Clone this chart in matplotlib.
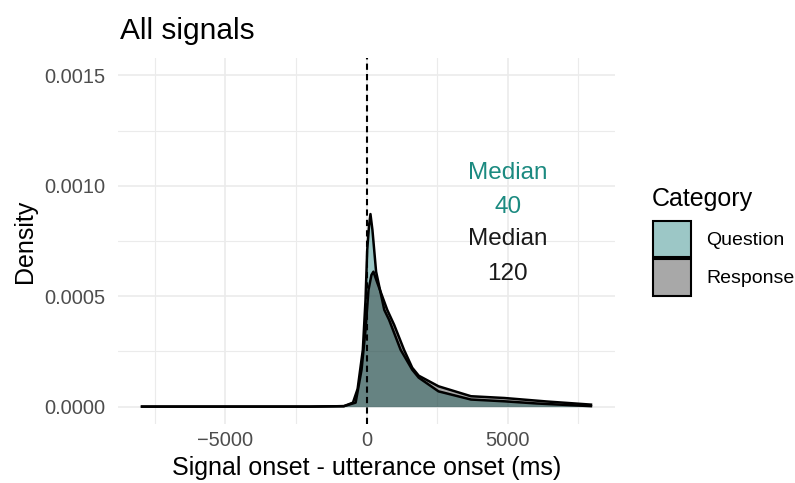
import matplotlib
matplotlib.use("Agg")
import matplotlib.pyplot as plt
from matplotlib.patches import Patch

plt.rcParams['font.family'] = ['Liberation Sans', 'DejaVu Sans']

# density curves (x in ms)
categories = ["Question", "Response"]
x_question = [-7950, -2000, -800, -480, -315, -130, -35, 25, 90, 140, 210, 340,
              630, 800, 1210, 1620, 1850, 2550, 3700, 4880, 6040, 7950]
density_question = [0, 0, 0.000002, 0.000018, 0.00008, 0.000257, 0.000483, 0.000709,
                    0.00082, 0.000872, 0.0008, 0.000611, 0.000438, 0.000393, 0.000257,
                    0.000167, 0.000131, 0.000069, 0.000032, 0.000024, 0.000014, 0.000002]
x_response = [-7950, -2000, -800, -385, -175, -35, 70, 175, 245, 385, 735, 980,
              1330, 1620, 1850, 2550, 3700, 4880, 6400, 7950]
density_response = [0, 0, 0.000002, 0.000018, 0.000167, 0.000348, 0.000528, 0.000596,
                    0.000611, 0.00056, 0.000438, 0.00037, 0.000257, 0.000176, 0.00014,
                    0.000092, 0.000047, 0.000039, 0.000023, 0.000009]
medians = [40, 120]
median_y = [0.001, 0.0007]

x_ticks = [-5000, 0, 5000]
y_ticks = [0.0, 0.0005, 0.0010, 0.0015]
y_labels = ["0.0000", "0.0005", "0.0010", "0.0015"]

fill_q = (59/255, 145/255, 143/255, 0.5)
fill_r = (0, 0, 0, 0.34)
teal_txt = "#1b8a80"

fig = plt.figure(figsize=(7.95, 4.83), dpi=100)
ax = fig.add_axes([118/795, 1 - 424/483, (615 - 118)/795, (424 - 58)/483])

ax.fill_between(x_question, density_question, color=fill_q, lw=0)
ax.plot(x_question, density_question, color="black", lw=1.8)
ax.fill_between(x_response, density_response, color=fill_r, lw=0)
ax.plot(x_response, density_response, color="black", lw=1.8)

ax.axvline(0, color="black", ls=(0, (3, 2)), lw=1.5)

for m, yv, c in zip(medians, median_y, [teal_txt, "#1a1a1a"]):
    ax.annotate(f"Median\n{m}", xy=(5000, yv), xytext=(0, -3), textcoords="offset points",
                color=c, fontsize=17.5, ha="center", va="center", linespacing=1.75)

ax.set_xlim(-8800, 8800)
ax.set_ylim(-0.0000788, 0.0015788)
ax.set_xticks(x_ticks)
ax.set_xticks([-7500, -2500, 2500, 7500], minor=True)
ax.set_yticks(y_ticks)
ax.set_yticklabels(y_labels)
ax.set_yticks([0.00025, 0.00075, 0.00125], minor=True)
ax.grid(True, which="major", color="#ebebeb", lw=1.2)
ax.grid(True, which="minor", color="#ebebeb", lw=0.8)
ax.set_axisbelow(True)
for s in ax.spines.values():
    s.set_visible(False)
ax.tick_params(which="both", length=0, labelsize=14.4, labelcolor="#4d4d4d")
ax.tick_params(axis="x", pad=5)
ax.tick_params(axis="y", pad=9)

ax.set_xlabel("Signal onset - utterance onset (ms)", fontsize=18, labelpad=4)
ax.set_ylabel("Density", fontsize=18, labelpad=5)
fig.text(120/795, 1 - 39/483, "All signals", fontsize=21.5, va="baseline", ha="left")

# legend: title as separate text, keys below
fig.text(652/795, 1 - 199/483, "Category", fontsize=18, va="center", ha="left")
handles = [Patch(facecolor=fill_q, edgecolor="black", lw=1.5),
           Patch(facecolor=fill_r, edgecolor="black", lw=1.5)]
leg = fig.legend(handles, categories, loc="upper left", bbox_to_anchor=(653/795, 1 - 221/483),
                 frameon=False, fontsize=14,
                 handlelength=1.95, handleheight=2.5, labelspacing=0.1, handletextpad=0.8,
                 borderpad=0, borderaxespad=0)

fig.savefig("out.png", dpi=100)
